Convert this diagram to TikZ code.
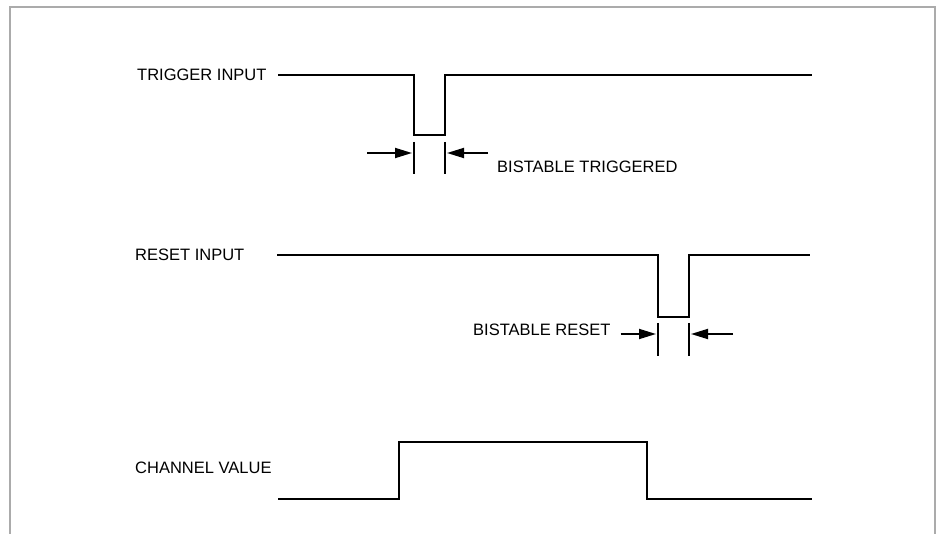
\documentclass[tikz,border=0pt]{standalone}
\usepackage{fontspec}
\setmainfont{Liberation Sans}
\usepackage{xcolor}
\usepackage{tikz}
\usetikzlibrary{positioning, arrows.meta, calc}
\definecolor{framegray}{HTML}{ABABAB}

\begin{document}
\begin{tikzpicture}[x=1pt, y=-1pt,
    signal/.style={line width=2.6pt, line join=miter},
    siglabel/.style={font=\fontsize{16.5}{19}\selectfont, inner sep=0pt, anchor=west},
    tickmark/.style={line width=1.8pt},
    dimarrow/.style={line width=1.8pt, -{Triangle[length=17pt, width=10pt]}}]
  \useasboundingbox (0,0) rectangle (939,534);
  \draw[framegray, line width=2.5pt] (10,534) -- (10,7) -- (935,7) -- (935,534);

  % labels
  \node[siglabel] (trig) at (137,75) {TRIGGER INPUT};
  \node[siglabel] (rst) at (135,255) {RESET INPUT};
  \node[siglabel] (chan) at (135,468) {CHANNEL VALUE};
  \node[siglabel] (trignote) at (497,167) {BISTABLE TRIGGERED};
  \node[siglabel] (rstnote) at (473,330) {BISTABLE RESET};

  % trigger input
  \coordinate (t1) at (278,75);  \coordinate (t2) at (414,135);
  \coordinate (t3) at (445,135); \coordinate (t4) at (812,75);
  \draw[signal] (t1) -| (t2) -- (t3) |- (t4);
  \draw[tickmark] (414,142) -- (414,174);
  \draw[tickmark] (445,142) -- (445,174);
  \draw[dimarrow] (367,153) -- (412,153);
  \draw[dimarrow] (488,153) -- (447,153);

  % reset input
  \coordinate (r1) at (277,255); \coordinate (r2) at (658,317);
  \coordinate (r3) at (689,317); \coordinate (r4) at (810,255);
  \draw[signal] (r1) -| (r2) -- (r3) |- (r4);
  \draw[tickmark] (658,323) -- (658,356);
  \draw[tickmark] (689,323) -- (689,356);
  \draw[dimarrow] ([xshift=10pt]rstnote.east |- 0,334) -- (656,334);
  \draw[dimarrow] (733,334) -- (691,334);

  % channel value
  \coordinate (c1) at (278,499); \coordinate (c2) at (399,442);
  \coordinate (c3) at (647,499); \coordinate (c4) at (812,499);
  \draw[signal] (c1) -| (c2) -| (c3) -- (c4);
\end{tikzpicture}
\end{document}
